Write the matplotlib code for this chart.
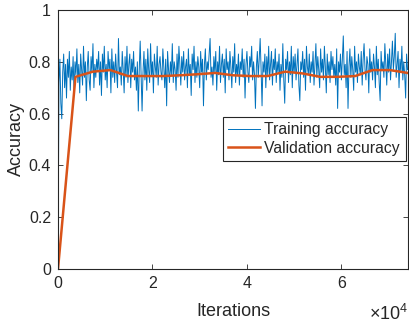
import numpy as np
import matplotlib
matplotlib.use("Agg")
import matplotlib.pyplot as plt

plt.rcParams['font.family'] = ['Liberation Sans', 'DejaVu Sans']
plt.rcParams['mathtext.fontset'] = 'custom'
plt.rcParams['mathtext.rm'] = 'Liberation Sans'

# training accuracy, logged every 200 iterations
train_step = 200
train_acc = [
    0.00, 0.72, 0.81, 0.64, 0.58, 0.76, 0.83, 0.70, 0.79, 0.66,
    0.81, 0.74, 0.84, 0.69, 0.78, 0.73, 0.82, 0.67, 0.80, 0.75,
    0.85, 0.72, 0.79, 0.68, 0.83, 0.77, 0.71, 0.86, 0.74, 0.80,
    0.65, 0.78, 0.84, 0.73, 0.69, 0.82, 0.76, 0.87, 0.70, 0.79,
    0.74, 0.81, 0.77, 0.84, 0.71, 0.80, 0.67, 0.83, 0.76, 0.86,
    0.73, 0.79, 0.70, 0.84, 0.77, 0.81, 0.68, 0.85, 0.74, 0.80,
    0.72, 0.83, 0.76, 0.70, 0.89, 0.75, 0.78, 0.71, 0.84, 0.77,
    0.68, 0.82, 0.74, 0.86, 0.72, 0.79, 0.83, 0.70, 0.81, 0.76,
    0.84, 0.73, 0.78, 0.69, 0.80, 0.61, 0.77, 0.88, 0.74, 0.61,
    0.76, 0.84, 0.73, 0.81, 0.69, 0.85, 0.77, 0.72, 0.87, 0.75,
    0.80, 0.68, 0.83, 0.78, 0.74, 0.86, 0.71, 0.79, 0.82, 0.76,
    0.73, 0.85, 0.78, 0.70, 0.81, 0.63, 0.84, 0.77, 0.72, 0.80,
    0.75, 0.87, 0.72, 0.80, 0.77, 0.69, 0.83, 0.74, 0.86, 0.79,
    0.71, 0.82, 0.76, 0.84, 0.73, 0.78, 0.81, 0.70, 0.85, 0.75,
    0.79, 0.67, 0.83, 0.77, 0.86, 0.72, 0.80, 0.74, 0.82, 0.78,
    0.70, 0.84, 0.76, 0.81, 0.63, 0.79, 0.85, 0.73, 0.80, 0.77,
    0.83, 0.89, 0.74, 0.78, 0.71, 0.82, 0.76, 0.84, 0.69, 0.80,
    0.75, 0.86, 0.72, 0.79, 0.83, 0.74, 0.81, 0.68, 0.85, 0.77,
    0.80, 0.73, 0.84, 0.78, 0.70, 0.82, 0.76, 0.87, 0.72, 0.79,
    0.75, 0.83, 0.71, 0.80, 0.77, 0.85, 0.74, 0.81, 0.66, 0.79,
    0.84, 0.76, 0.72, 0.82, 0.78, 0.86, 0.73, 0.80, 0.75, 0.62,
    0.78, 0.84, 0.74, 0.81, 0.89, 0.77, 0.63, 0.80, 0.76, 0.83,
    0.70, 0.82, 0.75, 0.86, 0.73, 0.79, 0.84, 0.71, 0.81, 0.77,
    0.85, 0.72, 0.80, 0.76, 0.83, 0.69, 0.79, 0.74, 0.87, 0.73,
    0.64, 0.81, 0.77, 0.84, 0.72, 0.80, 0.75, 0.86, 0.70, 0.82,
    0.76, 0.83, 0.73, 0.79, 0.85, 0.71, 0.65, 0.80, 0.77, 0.84,
    0.74, 0.81, 0.69, 0.86, 0.78, 0.75, 0.83, 0.72, 0.80, 0.76,
    0.84, 0.71, 0.79, 0.87, 0.74, 0.82, 0.77, 0.70, 0.85, 0.76,
    0.81, 0.73, 0.86, 0.78, 0.68, 0.83, 0.75, 0.80, 0.72, 0.84,
    0.77, 0.82, 0.74, 0.79, 0.71, 0.85, 0.62, 0.80, 0.76, 0.83,
    0.73, 0.81, 0.90, 0.75, 0.79, 0.70, 0.84, 0.62, 0.78, 0.85,
    0.74, 0.82, 0.77, 0.69, 0.86, 0.76, 0.80, 0.72, 0.83, 0.78,
    0.75, 0.84, 0.71, 0.81, 0.87, 0.77, 0.73, 0.82, 0.79, 0.68,
    0.85, 0.76, 0.80, 0.73, 0.83, 0.78, 0.70, 0.86, 0.75, 0.81,
    0.72, 0.65, 0.84, 0.77, 0.80, 0.74, 0.87, 0.79, 0.71, 0.83,
    0.76, 0.85, 0.73, 0.80, 0.88, 0.77, 0.82, 0.91, 0.74, 0.79,
    0.84, 0.70, 0.81, 0.76, 0.86, 0.73, 0.80, 0.75, 0.66, 0.83,
    0.77,
]
train_iter = np.arange(len(train_acc)) * train_step

# validation accuracy, evaluated every 3700 iterations
val_iter = [0, 3700, 7400, 11100, 14800, 18500, 22200, 25900, 29600, 33300,
            37000, 40700, 44400, 48100, 51800, 55500, 59200, 62900, 66600,
            70300, 74000]
val_acc = [0.0, 0.742, 0.762, 0.768, 0.745, 0.745, 0.745, 0.748, 0.752, 0.757,
           0.748, 0.745, 0.745, 0.762, 0.755, 0.742, 0.742, 0.745, 0.768,
           0.768, 0.757]

x_ticks = [0, 20000, 40000, 60000]
x_tick_labels = ['0', '2', '4', '6']
y_ticks = [0, 0.2, 0.4, 0.6, 0.8, 1]
y_tick_labels = ['0', '0.2', '0.4', '0.6', '0.8', '1']

fig = plt.figure(figsize=(4.09, 3.29), dpi=100)
ax = fig.add_axes([58 / 409, 60 / 329, 350 / 409, 259 / 329])

ax.plot(train_iter, train_acc, color='#0072BD', lw=0.7, label='Training accuracy')
ax.plot(val_iter, val_acc, color='#D95319', lw=1.8, label='Validation accuracy')

ax.set_xlim(0, 74100)
ax.set_ylim(0, 1)
ax.set_xticks(x_ticks)
ax.set_xticklabels(x_tick_labels)
ax.set_yticks(y_ticks)
ax.set_yticklabels(y_tick_labels)

axis_color = '#262626'
for s in ax.spines.values():
    s.set_color(axis_color)
    s.set_linewidth(0.8)
ax.tick_params(direction='in', length=3.5, width=0.6, color=axis_color,
               labelcolor=axis_color, labelsize=11.5, top=True, right=True, pad=5)

ax.set_xlabel('Iterations', fontsize=13, color=axis_color, labelpad=9)
ax.set_ylabel('Accuracy', fontsize=13, color=axis_color, labelpad=3)
# exponent for the x axis, sitting under the right end of the axis
ax.text(0.889, -0.135, r'$\times10^{4}$', transform=ax.transAxes, ha='left',
        va='top', fontsize=13, color=axis_color)

leg = ax.legend(loc='upper left', bbox_to_anchor=(0.471, 0.587), borderaxespad=0,
                fancybox=False, fontsize=11.3, handlelength=2.0, handletextpad=0.3,
                borderpad=0.35, labelspacing=0.2, framealpha=1)
leg.get_frame().set_edgecolor(axis_color)
leg.get_frame().set_linewidth(0.8)
for t in leg.get_texts():
    t.set_color(axis_color)

fig.savefig('out.png', dpi=100)
